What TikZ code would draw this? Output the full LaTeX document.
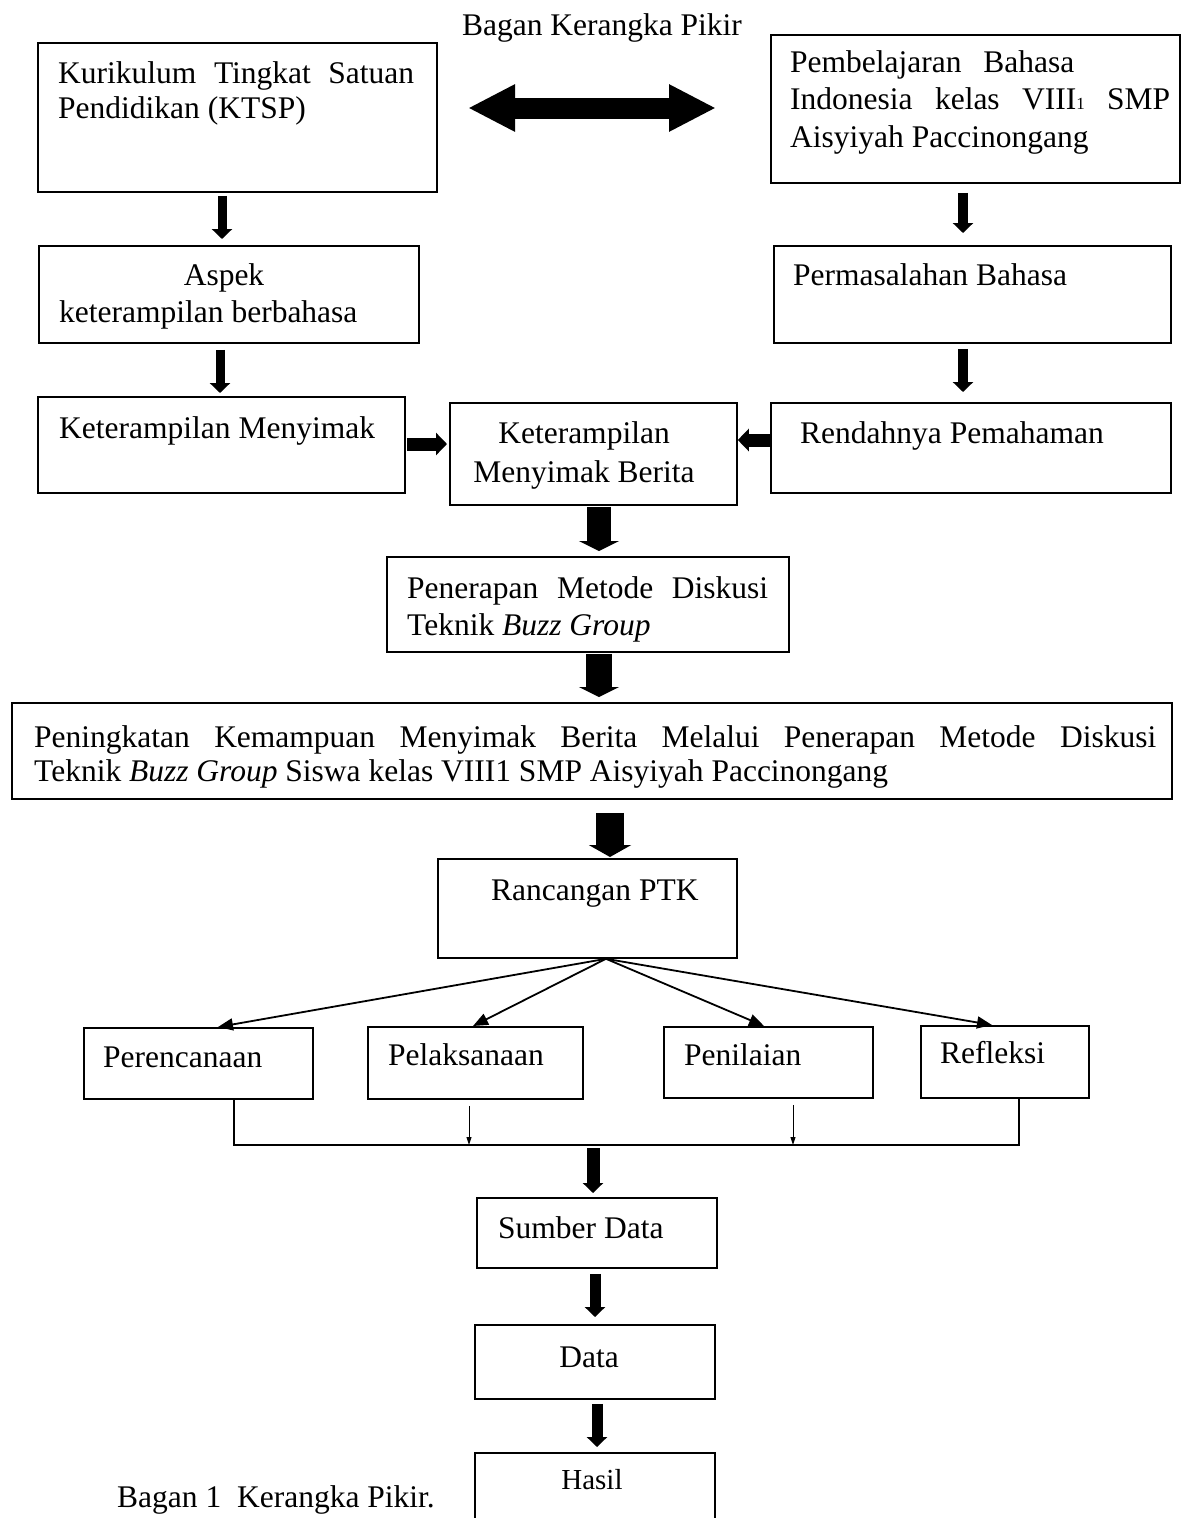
\documentclass[tikz,border=0pt]{standalone}
\usepackage{fontspec}
\setmainfont{Liberation Serif}
\usetikzlibrary{arrows.meta}
\newcommand{\tl}[1]{\begin{tabular}[t]{@{}l@{}}#1\end{tabular}}
\newcommand{\tc}[1]{\begin{tabular}[t]{@{}c@{}}#1\end{tabular}}
\begin{document}
\begin{tikzpicture}[x=1pt,y=-1pt,
  box/.style={draw, line width=1.8pt, inner sep=0pt, anchor=north west},
  txt/.style={inner sep=0pt, anchor=base west, font=\fontsize{31.5}{37}\selectfont},
  ctxt/.style={txt, anchor=base},
  barrow/.style n args={3}{line width=#1, -{Triangle[length=#3,width=#2]}},
  thinarr/.style={line width=1.8pt, -{Triangle[length=15pt,width=12pt]}},
  tinyarr/.style={line width=1pt, -{Triangle[length=8pt,width=5pt]}},
  joinline/.style={line width=1.4pt}
]
\useasboundingbox (0,0) rectangle (1181,1518);
\clip (0,0) rectangle (1181,1518);

% boxes
\node[box, minimum width=399pt, minimum height=149pt] (A) at (37,42) {};
\node[box, minimum width=409pt, minimum height=148pt] (B) at (770,34) {};
\node[box, minimum width=380pt, minimum height=97pt] (C) at (38,245) {};
\node[box, minimum width=397pt, minimum height=97pt] (D) at (773,245) {};
\node[box, minimum width=367pt, minimum height=96pt] (E) at (37,396) {};
\node[box, minimum width=287pt, minimum height=102pt] (G) at (449,402) {};
\node[box, minimum width=400pt, minimum height=90pt] (F) at (770,402) {};
\node[box, minimum width=402pt, minimum height=95pt] (H) at (386,556) {};
\node[box, minimum width=1160pt, minimum height=96pt] (I) at (11,702) {};
\node[box, minimum width=299pt, minimum height=99pt] (J) at (437,858) {};
\node[box, minimum width=229pt, minimum height=71pt] (K1) at (83,1027) {};
\node[box, minimum width=215pt, minimum height=72pt] (K2) at (367,1026) {};
\node[box, minimum width=209pt, minimum height=71pt] (K3) at (663,1026) {};
\node[box, minimum width=168pt, minimum height=72pt] (K4) at (920,1025) {};
\node[box, minimum width=240pt, minimum height=70pt] (L) at (476,1197) {};
\node[box, minimum width=240pt, minimum height=74pt] (M) at (474,1324) {};
\node[box, minimum width=240pt, minimum height=90pt] (N) at (474,1452) {};

% texts
\node[ctxt] (title) at (602,35) {Bagan Kerangka Pikir};
\node[txt, font=\fontsize{31.5}{35}\selectfont] (tA) at (58,83)
  {\tl{\makebox[356pt][s]{Kurikulum Tingkat Satuan}\\Pendidikan (KTSP)}};
\node[txt, font=\fontsize{31.5}{37.5}\selectfont] (tB) at (790,72)
  {\tl{\makebox[284pt][s]{Pembelajaran Bahasa}\\\makebox[380pt][s]{Indonesia kelas VIII{\fontsize{17}{17}\selectfont 1} SMP}\\Aisyiyah Paccinongang}};
\node[ctxt] (tC1) at (224,285) {Aspek};
\node[txt] (tC2) at (59,322) {keterampilan berbahasa};
\node[txt] (tD) at (793,285) {Permasalahan Bahasa};
\node[txt] (tE) at (59,438) {Keterampilan Menyimak};
\node[txt] (tF) at (800,443) {Rendahnya Pemahaman};
\node[txt, font=\fontsize{31.5}{39}\selectfont, anchor=base] (tG) at (584,443)
  {\tc{Keterampilan\\Menyimak Berita}};
\node[txt] (tH) at (407,598)
  {\tl{\makebox[361pt][s]{Penerapan Metode Diskusi}\\Teknik \textit{Buzz Group}}};
\node[txt, font=\fontsize{31.5}{34}\selectfont] (tI) at (34,747)
  {\tl{\makebox[1122pt][s]{Peningkatan Kemampuan Menyimak Berita Melalui Penerapan Metode Diskusi}\\Teknik \textit{Buzz Group} Siswa kelas VIII1 SMP Aisyiyah Paccinongang}};
\node[txt] (tJ) at (491,900) {Rancangan PTK};
\node[txt] (tK1) at (103,1067) {Perencanaan};
\node[txt] (tK2) at (388,1065) {Pelaksanaan};
\node[txt] (tK3) at (684,1065) {Penilaian};
\node[txt] (tK4) at (940,1063) {Refleksi};
\node[txt] (tL) at (498,1238) {Sumber Data};
\node[ctxt] (tM) at (589,1367) {Data};
\node[ctxt, font=\fontsize{29}{34}\selectfont] (tN) at (592,1489) {Hasil};
\node[txt] (cap) at (117,1507) {Bagan 1\ \ Kerangka Pikir.};

% double arrow
\coordinate (dl) at (468,108);
\coordinate (dr) at (716,108);
\draw[line width=21pt, {Triangle[length=47pt,width=44pt]}-{Triangle[length=47pt,width=44pt]}] (dl) -- (dr);

% block arrows
\draw[barrow={9pt}{20pt}{10pt}, shorten <=3pt, shorten >=6pt] (A.south -| 222,0) -- (C.north -| 222,0);
\draw[barrow={10pt}{20pt}{10pt}, shorten <=9pt, shorten >=12pt] (B.south -| 963,0) -- (D.north -| 963,0);
\draw[barrow={9pt}{20pt}{10pt}, shorten <=6pt, shorten >=3pt] (C.south -| 220,0) -- (E.north -| 220,0);
\draw[barrow={10pt}{20pt}{10pt}, shorten <=5pt, shorten >=10pt] (D.south -| 963,0) -- (F.north -| 963,0);
\draw[barrow={13pt}{22pt}{11pt}, shorten <=1pt, shorten >=2pt] (E.east |- 0,444) -- (G.west |- 0,444);
\draw[barrow={13pt}{22pt}{11pt}] (F.west |- 0,440) -- (G.east |- 0,440);
\draw[barrow={24pt}{40pt}{10pt}, shorten <=1pt, shorten >=5pt] (G.south -| 599,0) -- (H.north -| 599,0);
\draw[barrow={26pt}{40pt}{10pt}, shorten <=1pt, shorten >=5pt] (H.south -| 599,0) -- (I.north -| 599,0);
\draw[barrow={28pt}{42pt}{12pt}, shorten <=13pt, shorten >=1pt] (I.south -| 610,0) -- (J.north -| 610,0);

% fan
\draw[thinarr] (J.south -| 606,0) -- (K1.north -| 218,0);
\draw[thinarr] (J.south -| 606,0) -- (K2.north -| 473,0);
\draw[thinarr] (J.south -| 606,0) -- (K3.north -| 764,0);
\draw[thinarr] (J.south -| 606,0) -- (K4.north -| 992,0);

% join
\coordinate (jl) at (234,1145);
\coordinate (jr) at (1019,1145);
\draw[joinline] (K1.south -| jl) -- (jl) -- (jr) -- (K4.south -| jr);
\draw[tinyarr, shorten <=6pt] (K2.south -| 469,0) -- (jl -| 469,0);
\draw[tinyarr, shorten <=6pt] (K3.south -| 793,0) -- (jl -| 793,0);

\draw[barrow={13pt}{20pt}{10pt}, shorten <=3pt, shorten >=4pt] (jl -| 593,0) -- (L.north -| 593,0);
\draw[barrow={11pt}{20pt}{10pt}, shorten <=5pt, shorten >=7pt] (L.south -| 595,0) -- (M.north -| 595,0);
\draw[barrow={11pt}{20pt}{10pt}, shorten <=4pt, shorten >=5pt] (M.south -| 597,0) -- (N.north -| 597,0);
\end{tikzpicture}
\end{document}
